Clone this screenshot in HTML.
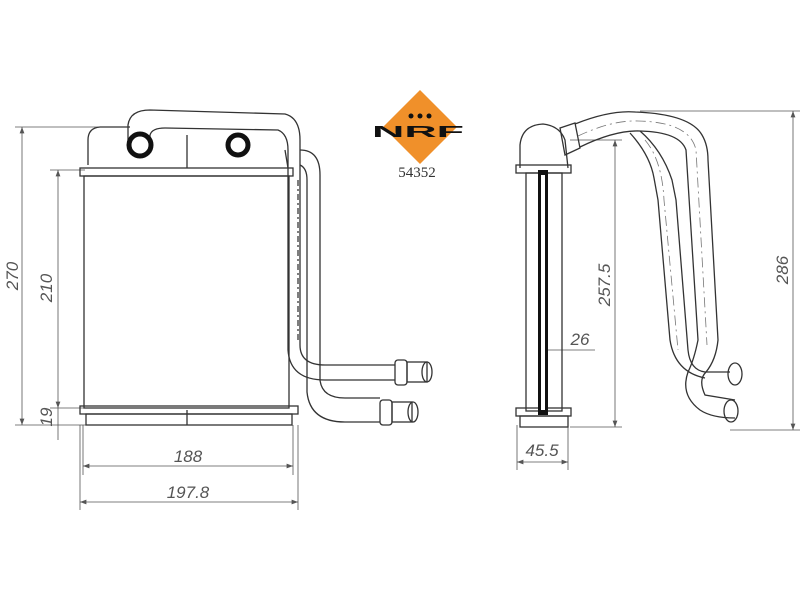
<!DOCTYPE html>
<html><head><style>html,body{margin:0;padding:0;background:#fff;width:800px;height:600px;overflow:hidden}</style></head>
<body>
<svg width="800" height="600" viewBox="0 0 800 600" xmlns="http://www.w3.org/2000/svg">
<defs>
<marker id="a" markerWidth="8" markerHeight="6" refX="8" refY="3" orient="auto"><path d="M0,0 L8,3 L0,6 z" fill="#555"/></marker>
<marker id="b" markerWidth="8" markerHeight="6" refX="0" refY="3" orient="auto"><path d="M8,0 L0,3 L8,6 z" fill="#555"/></marker>
</defs>
<g fill="none" stroke="#555" stroke-width="0.8">
<line x1="15" y1="127" x2="110" y2="127"/>
<line x1="15" y1="425" x2="90" y2="425"/>
<line x1="22" y1="127" x2="22" y2="425" marker-start="url(#b)" marker-end="url(#a)"/>
<line x1="50" y1="170" x2="85" y2="170"/>
<line x1="50" y1="408" x2="85" y2="408"/>
<line x1="58" y1="170" x2="58" y2="408" marker-start="url(#b)" marker-end="url(#a)"/>
<line x1="58" y1="408" x2="58" y2="440"/>
<line x1="80" y1="425" x2="80" y2="510"/>
<line x1="83" y1="425" x2="83" y2="475"/>
<line x1="293" y1="425" x2="293" y2="475"/>
<line x1="298" y1="425" x2="298" y2="510"/>
<line x1="83" y1="466" x2="293" y2="466" marker-start="url(#b)" marker-end="url(#a)"/>
<line x1="80" y1="502" x2="298" y2="502" marker-start="url(#b)" marker-end="url(#a)"/>
<line x1="640" y1="111" x2="800" y2="111"/>
<line x1="730" y1="430" x2="800" y2="430"/>
<line x1="793" y1="111" x2="793" y2="430" marker-start="url(#b)" marker-end="url(#a)"/>
<line x1="570" y1="140" x2="622" y2="140"/>
<line x1="570" y1="427" x2="622" y2="427"/>
<line x1="615" y1="140" x2="615" y2="427" marker-start="url(#b)" marker-end="url(#a)"/>
<line x1="540" y1="350" x2="595" y2="350"/>
<line x1="517" y1="425" x2="517" y2="470"/>
<line x1="568" y1="425" x2="568" y2="470"/>
<line x1="517" y1="462" x2="568" y2="462" marker-start="url(#b)" marker-end="url(#a)"/>
</g>
<g font-family="Liberation Sans, sans-serif" font-size="17" fill="#555" font-style="italic">
<text x="188" y="462" text-anchor="middle">188</text>
<text x="188" y="498" text-anchor="middle">197.8</text>
<text transform="translate(18,276) rotate(-90)" text-anchor="middle">270</text>
<text transform="translate(52,288) rotate(-90)" text-anchor="middle">210</text>
<text transform="translate(52,417) rotate(-90)" text-anchor="middle">19</text>
<text x="542" y="456" text-anchor="middle">45.5</text>
<text x="580" y="345" text-anchor="middle">26</text>
<text transform="translate(610,285) rotate(-90)" text-anchor="middle">257.5</text>
<text transform="translate(788,270) rotate(-90)" text-anchor="middle">286</text>
</g>
<g fill="none" stroke="#333" stroke-width="1.3">
<path d="M88,165 L88,140 Q88,128 100,127 L130,127"/>
<path d="M285,150 L288,168"/>
<rect x="80" y="168" width="213" height="8"/>
<rect x="84" y="176" width="205" height="232"/>
<rect x="80" y="406" width="218" height="8"/>
<rect x="86" y="414" width="206" height="11"/>
<line x1="187" y1="135" x2="187" y2="168"/>
<line x1="187" y1="410" x2="187" y2="425"/>
<path d="M128,150 L128,125 Q130,110 150,110 L285,114 Q300,118 300,140 L300,345 Q300,365 325,365 L395,365"/>
<path d="M150,150 L150,135 Q152,128 165,128 L278,130 Q288,134 288,150 L288,350 Q290,380 325,380 L395,380"/>
<path d="M300,150 Q320,150 320,175 L320,380 Q322,398 345,398 L380,398"/>
<path d="M300,165 Q307,168 307,180 L307,392 Q310,422 345,422 L380,422"/>
<rect x="395" y="360" width="12" height="25" rx="3"/>
<rect x="407" y="362" width="20" height="20"/>
<ellipse cx="427" cy="372" rx="5" ry="10"/>
<rect x="380" y="400" width="12" height="25" rx="3"/>
<rect x="392" y="402" width="20" height="20"/>
<ellipse cx="413" cy="412" rx="5" ry="10"/>
</g>
<circle cx="140" cy="145" r="11" fill="none" stroke="#111" stroke-width="5"/>
<circle cx="238" cy="145" r="10" fill="none" stroke="#111" stroke-width="5"/>
<line x1="298" y1="180" x2="298" y2="340" stroke="#555" stroke-dasharray="6,3,2,3" stroke-width="1.5"/>
<!-- side view -->
<g fill="none" stroke="#333" stroke-width="1.3">
<path d="M520,168 L520,145 Q522,125 543,124 Q560,126 565,140 L568,168"/>
<rect x="516" y="165" width="55" height="8"/>
<rect x="526" y="173" width="36" height="238"/>
<rect x="516" y="408" width="55" height="8"/>
<rect x="520" y="416" width="48" height="11"/>
<path d="M560,128 L575,123 L580,148 L565,155 Z"/>
<!-- front tube -->
<path d="M575,124 Q610,110 635,112 Q690,114 702,135 Q708,145 708,160 L718,340 Q716,360 706,372 Q698,380 705,395 L735,400"/>
<path d="M580,147 Q615,130 640,131 Q680,132 686,150 L698,340 Q694,360 688,372 Q680,395 700,410 Q712,418 735,418"/>
<!-- back tube -->
<path d="M640,131 Q662,150 672,180 L676,200 L688,350 Q690,370 705,372 L730,372"/>
<path d="M630,133 Q650,155 654,178 L658,200 L670,340 Q675,372 705,378"/>
<ellipse cx="735" cy="374" rx="7" ry="11"/>
<ellipse cx="731" cy="411" rx="7" ry="11"/>
</g>
<g fill="none" stroke="#777" stroke-width="0.8" stroke-dasharray="10,4,2,4">
<path d="M578,136 Q612,120 638,121 Q690,122 696,150 L707,345"/>
<path d="M645,140 Q662,160 664,200 L678,350"/>
</g>
<rect x="538" y="170" width="10" height="245" fill="#111"/>
<rect x="541" y="175" width="4" height="235" fill="#fff"/>
<!-- logo -->
<polygon points="420,90 457,127 420,164 383,127" fill="#f0902a"/>
<circle cx="411" cy="116" r="2.5" fill="#111"/><circle cx="420" cy="116" r="2.5" fill="#111"/><circle cx="429" cy="116" r="2.5" fill="#111"/>
<text x="418" y="137" text-anchor="middle" font-family="Liberation Sans, sans-serif" font-weight="bold" font-size="16" fill="#111" textLength="92" lengthAdjust="spacingAndGlyphs">NRF</text>
<text x="417" y="177" text-anchor="middle" font-family="Liberation Serif, serif" font-size="15" fill="#333">54352</text>
</svg>
</body></html>
